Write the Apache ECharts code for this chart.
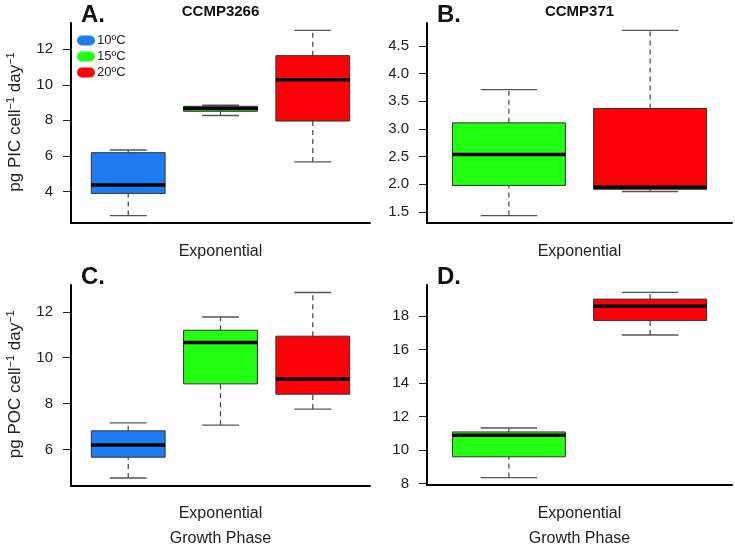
<!DOCTYPE html>
<html>
<head>
<meta charset="utf-8">
<script src="https://cdn.jsdelivr.net/npm/echarts@6/dist/echarts.min.js"></script>
<style>
  html, body { margin: 0; padding: 0; background: #fff; }
  #chart { width: 735px; height: 548px; }
</style>
</head>
<body>
<div id="chart"></div>
<script>
// temperature groups
const temps = ['10ºC', '15ºC', '20ºC'];
const tempColors = ['#1f7bf4', '#22ff12', '#fe0008'];

// box stats: [lower whisker, Q1, median, Q3, upper whisker]
const picCCMP3266 = [
    [2.64, 3.89, 4.36, 6.18, 6.33],
    [8.27, 8.51, 8.66, 8.79, 8.85],
    [5.66, 7.96, 10.28, 11.64, 13.06]
];
const picCCMP371 = [
    null,
    [1.435, 1.98, 2.54, 3.11, 3.71],
    [1.87, 1.91, 1.95, 3.37, 4.78]
];
const pocCCMP3266 = [
    [4.75, 5.66, 6.19, 6.81, 7.16],
    [7.06, 8.86, 10.67, 11.2, 11.78],
    [7.76, 8.41, 9.07, 10.94, 12.85]
];
const pocCCMP371 = [
    null,
    [8.36, 9.6, 10.88, 11.08, 11.32],
    [16.86, 17.72, 18.58, 19.0, 19.4]
];

// tick labels
const ticksA = [4, 6, 8, 10, 12];
const ticksB = [1.5, 2.0, 2.5, 3.0, 3.5, 4.0, 4.5];
const ticksC = [6, 8, 10, 12];
const ticksD = [8, 10, 12, 14, 16, 18];

const panels = [
    { letter: 'A.', title: 'CCMP3266', stats: picCCMP3266, ticks: ticksA, decimals: 0,
      yName: '{n|pg PIC cell}{s|−1}{n| day}{s|−1}', xName: 'Exponential',
      grid: { left: 71, right: 365, top: 23, height: 200 } },
    { letter: 'B.', title: 'CCMP371', stats: picCCMP371, ticks: ticksB, decimals: 1,
      yName: '', xName: 'Exponential',
      grid: { left: 427, right: 3, top: 23, height: 200 } },
    { letter: 'C.', title: '', stats: pocCCMP3266, ticks: ticksC, decimals: 0,
      yName: '{n|pg POC cell}{s|−1}{n| day}{s|−1}', xName: 'Exponential\nGrowth Phase',
      grid: { left: 71, right: 365, top: 285, height: 200.5 } },
    { letter: 'D.', title: '', stats: pocCCMP371, ticks: ticksD, decimals: 0,
      yName: '', xName: 'Exponential\nGrowth Phase',
      grid: { left: 427, right: 3, top: 285, height: 200 } }
];

// R style box: dashed whiskers, solid staples, thick median
function renderBox(params, api) {
    const x = api.value(0);
    const low = api.coord([x, api.value(1)]);
    const q1 = api.coord([x, api.value(2)]);
    const med = api.coord([x, api.value(3)]);
    const q3 = api.coord([x, api.value(4)]);
    const high = api.coord([x, api.value(5)]);
    const half = api.size([0.8, 0])[0] / 2;
    const cap = half / 2;
    const cx = low[0];
    const whisk = { stroke: '#444', lineWidth: 1.2, lineDash: [5, 4] };
    const staple = { stroke: '#555', lineWidth: 1.4 };
    return {
        type: 'group',
        children: [
            { type: 'line', shape: { x1: cx, y1: low[1], x2: cx, y2: q1[1] }, style: whisk },
            { type: 'line', shape: { x1: cx, y1: q3[1], x2: cx, y2: high[1] }, style: whisk },
            { type: 'line', shape: { x1: cx - cap, y1: low[1], x2: cx + cap, y2: low[1] }, style: staple },
            { type: 'line', shape: { x1: cx - cap, y1: high[1], x2: cx + cap, y2: high[1] }, style: staple },
            { type: 'rect', shape: { x: cx - half, y: q3[1], width: half * 2, height: q1[1] - q3[1] },
              style: { fill: api.visual('color'), stroke: '#333', lineWidth: 1 } },
            { type: 'line', shape: { x1: cx - half, y1: med[1], x2: cx + half, y2: med[1] },
              style: { stroke: '#000', lineWidth: 3.5 } }
        ]
    };
}

const grids = [], xAxes = [], yAxes = [], series = [], titles = [];

panels.forEach((p, i) => {
    grids.push(Object.assign({ outerBoundsMode: 'none', containLabel: false }, p.grid));

    // boxes present in this panel, placed at 1..n like R boxplot
    const present = [];
    p.stats.forEach((s, k) => { if (s) present.push(k); });
    const n = present.length;
    const xPad = 0.04 * n;

    let lo = Infinity, hi = -Infinity;
    present.forEach(k => { lo = Math.min(lo, p.stats[k][0]); hi = Math.max(hi, p.stats[k][4]); });
    const yPad = 0.04 * (hi - lo);

    xAxes.push({
        type: 'value', gridIndex: i,
        min: 0.5 - xPad, max: n + 0.5 + xPad,
        axisLine: { show: true, onZero: false, lineStyle: { color: '#000', width: 2 } },
        axisTick: { show: false }, axisLabel: { show: false }, splitLine: { show: false },
        name: p.xName, nameLocation: 'middle', nameGap: 16,
        nameTextStyle: { fontFamily: 'Liberation Sans', fontSize: 16, color: '#222', lineHeight: 25, verticalAlign: 'top' }
    });

    yAxes.push({
        type: 'value', gridIndex: i,
        min: lo - yPad, max: hi + yPad,
        axisLine: { show: true, lineStyle: { color: '#000', width: 2 } },
        axisTick: { show: true, length: 8, customValues: p.ticks, lineStyle: { color: '#222', width: 1 } },
        axisLabel: {
            customValues: p.ticks, margin: 18,
            fontFamily: 'Liberation Sans', fontSize: 15, color: '#222',
            formatter: v => v.toFixed(p.decimals)
        },
        splitLine: { show: false },
        name: p.yName, nameLocation: 'middle', nameRotate: 90, nameGap: 46,
        nameTextStyle: {
            padding: [0, 0, 0, 2],
            rich: {
                n: { fontFamily: 'Liberation Sans', fontSize: 17, color: '#222' },
                s: { fontFamily: 'Liberation Sans', fontSize: 11, color: '#222', verticalAlign: 'top', padding: [0, 0, 9, 0] }
            }
        }
    });

    present.forEach((k, j) => {
        series.push({
            type: 'custom', name: temps[k],
            xAxisIndex: i, yAxisIndex: i,
            itemStyle: { color: tempColors[k] },
            renderItem: renderBox,
            encode: { x: 0, y: [1, 2, 3, 4, 5] },
            data: [[j + 1].concat(p.stats[k])]
        });
    });

    const gl = p.grid.left;
    const gw = 735 - p.grid.left - p.grid.right;
    titles.push({
        text: p.letter, left: gl + 10, top: p.grid.top - 20, padding: 0,
        textStyle: { fontFamily: 'Liberation Sans', fontSize: 24, fontWeight: 'bold', color: '#111' }
    });
    if (p.title) {
        titles.push({
            text: p.title, left: gl + gw / 2, textAlign: 'center', top: 4, padding: 0,
            textStyle: { fontFamily: 'Liberation Sans', fontSize: 15, fontWeight: 'bold', color: '#111' }
        });
    }
});

const chart = echarts.init(document.getElementById('chart'), null, { renderer: 'canvas' });
chart.setOption({
    animation: false,
    backgroundColor: '#fff',
    title: titles,
    legend: {
        data: temps, orient: 'vertical', left: 77, top: 34,
        icon: 'path://M5,0 H13 A5,5 0 0 1 13,10 H5 A5,5 0 0 1 5,0 Z',
        itemWidth: 18, itemHeight: 10, itemGap: 3, padding: 0,
        selectedMode: false,
        textStyle: { fontFamily: 'Liberation Sans', fontSize: 13, color: '#222', padding: [0, 0, 0, -3] }
    },
    grid: grids,
    xAxis: xAxes,
    yAxis: yAxes,
    series: series
});
</script>
</body>
</html>
